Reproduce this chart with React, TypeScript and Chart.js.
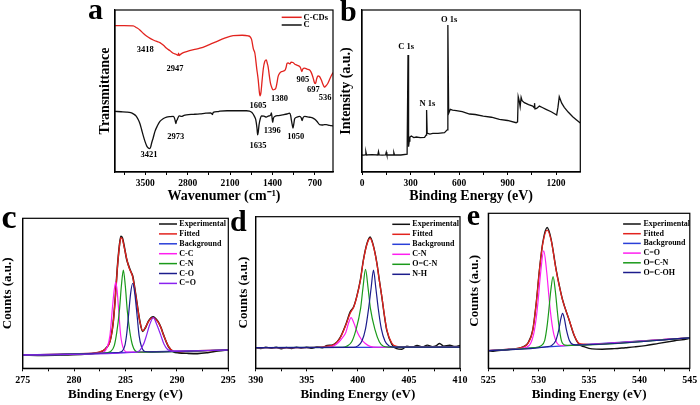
import React, { useEffect, useRef } from "react";
import { Chart, registerables } from "chart.js";

Chart.register(...registerables);

type P = [number, number];

const FONT = "'Liberation Serif', 'Times New Roman', Times, serif";

// ---------------- Panel a : FTIR ----------------
const ftirCCDs: P[] = [
  [4000, 90.3], [3850, 90.3], [3700, 90.2], [3640, 89], [3590, 87.7], [3530, 85.5], [3480, 84.0], [3420, 82.5],
  [3368, 81.5], [3310, 80.6], [3258, 79.9], [3200, 78.2], [3148, 76.4], [3090, 74.8], [3038, 73.3], [2990, 72.7],
  [2960, 72.0], [2950, 73.3], [2940, 71.9], [2928, 72.3], [2880, 73.5], [2818, 74.3], [2700, 75.5], [2598, 76.4],
  [2450, 78.5], [2323, 80.5], [2200, 82.5], [2049, 84.2], [1900, 84.4], [1800, 84.0], [1770, 83.5], [1745, 81.9],
  [1715, 76], [1690, 73.3], [1660, 64], [1635, 56.9], [1615, 49], [1605, 47.0], [1590, 49], [1570, 56.9],
  [1550, 64], [1527, 68.2], [1500, 69.2], [1485, 67], [1472, 65.1], [1450, 59], [1433, 54.8], [1410, 52],
  [1390, 50.7], [1370, 50.9], [1345, 51.7], [1325, 55], [1307, 58.9], [1280, 61], [1252, 62.0], [1197, 62.6],
  [1175, 64.5], [1159, 67.1], [1140, 67.4], [1115, 66.7], [1090, 67.8], [1060, 67.6], [1030, 66.5], [1005, 66.1],
  [951, 65.1], [935, 64.2], [915, 62.0], [900, 63.5], [868, 64.1], [830, 63.5], [786, 63.0], [760, 61.5],
  [731, 58.5], [710, 55.5], [697, 54.6], [687, 54.8], [670, 57.5], [649, 59.3], [620, 58.8], [594, 56.9],
  [570, 54.5], [545, 52.6], [536, 52.4], [520, 53.0], [484, 54.8], [440, 58.5], [400, 61.4],
];
const ftirC: P[] = [
  [4000, 37.4], [3900, 37.2], [3808, 37.0], [3740, 36.6], [3698, 35.9], [3650, 34.5], [3615, 32.2], [3585, 29.5],
  [3560, 26.1], [3530, 22], [3505, 18.9], [3475, 16], [3450, 14.8], [3430, 14.4], [3410, 15.5], [3395, 17.9],
  [3370, 21], [3340, 25.1], [3300, 28.5], [3258, 31.2], [3200, 33], [3148, 33.9], [3090, 34.2], [3038, 34.3],
  [3020, 33.5], [3005, 31.5], [2994, 29.8], [2985, 31.5], [2972, 32.2], [2960, 33.5], [2940, 34.6], [2901, 34.3],
  [2860, 35], [2818, 35.3], [2700, 35.6], [2598, 35.9], [2500, 36.3], [2420, 36.5], [2390, 35.5], [2378, 36.8],
  [2300, 37.3], [2268, 37.6], [2150, 37.8], [2049, 37.8], [1950, 37.8], [1829, 37.8], [1780, 37.6], [1750, 37.0],
  [1730, 36.3], [1700, 34.5], [1675, 32.2], [1655, 27], [1645, 23.0], [1635, 24.5], [1621, 29.2], [1600, 33],
  [1582, 34.7], [1540, 34.5], [1500, 33.9], [1470, 34.5], [1445, 34.7], [1425, 35.5], [1417, 36.5], [1405, 33],
  [1396, 30.6], [1385, 33], [1362, 34.3], [1300, 34.8], [1225, 35.3], [1160, 35.8], [1115, 36.3], [1100, 35],
  [1088, 32.2], [1072, 29], [1060, 27.1], [1048, 29.5], [1033, 32.8], [1000, 33.8], [951, 34.3], [925, 33.5],
  [910, 31.8], [895, 33.5], [868, 34.3], [820, 34], [780, 33.8], [731, 33.3], [700, 32.5], [660, 31],
  [621, 29.2], [580, 29], [540, 29.2], [511, 29.2], [460, 28.8], [430, 28.6], [400, 28.5],
];
const ftirTicks = [3850, 3500, 3150, 2800, 2450, 2100, 1750, 1400, 1050, 700];
const ftirTickLabels = [3500, 2800, 2100, 1400, 700];
const ftirNotes = [
  { text: "3418", x: 3500, y: 75.3 }, { text: "2947", x: 3009, y: 64 }, { text: "1605", x: 1639, y: 40.9 },
  { text: "1380", x: 1284, y: 45 }, { text: "905", x: 896, y: 57.2 }, { text: "697", x: 726, y: 51 },
  { text: "536", x: 528, y: 45.9 }, { text: "3421", x: 3439, y: 10.5 }, { text: "2973", x: 2998, y: 21.8 },
  { text: "1635", x: 1639, y: 16.2 }, { text: "1396", x: 1403, y: 25.3 }, { text: "1050", x: 1017, y: 21.8 },
];

// ---------------- Panel b : XPS survey ----------------
const survey: P[] = [
  [0, 10.5], [10, 10.4], [20, 10.6], [24, 12.4], [28, 10.5], [60, 10.7], [98, 10.5], [102, 12.6], [106, 10.6],
  [125, 10.4], [146, 10.6], [150, 12.2], [154, 10.5], [175, 10.6], [193, 10.5], [197, 12.0], [201, 10.6],
  [240, 10.5], [279, 11], [284.5, 72.2], [288, 15.6], [292, 19], [296, 21.5], [305, 22.2], [320, 21.2],
  [336, 21.6], [360, 21.2], [387, 21.4], [396, 22.8], [399.5, 38.3], [403, 24], [406, 23.9], [420, 23.4],
  [438, 23.8], [470, 23.9], [510, 24.3], [527, 26], [531, 90.7], [536, 36.2], [546, 38.7], [560, 38.2],
  [583, 37.9], [620, 37.2], [665, 35.8], [700, 35.5], [750, 34.5], [800, 33.8], [850, 32.5], [900, 31.8],
  [953, 30.4], [962, 31], [966, 46.5], [972, 44], [978, 40.3], [984, 46.1], [990, 44], [1004, 42.8],
  [1030, 41.6], [1056, 40.7], [1064, 39.8], [1067, 42.5], [1070, 38.9], [1080, 39.2], [1097, 40.7],
  [1115, 39.8], [1138, 38.7], [1170, 37.2], [1204, 35.2], [1212, 40], [1220, 46.5], [1235, 42.5],
  [1251, 39.9], [1275, 37], [1303, 34.1], [1325, 32.3], [1350, 30.2],
];
const surveyTicks = [0, 150, 300, 450, 600, 750, 900, 1050, 1200];
const surveyTickLabels = [0, 300, 600, 900, 1200];
const surveyNotes = [
  { text: "C 1s", x: 273, y: 77.3 }, { text: "N 1s", x: 405, y: 42.4 }, { text: "O 1s", x: 539, y: 93.8 },
];

// ---------------- Panel c : C 1s ----------------
const cExp: P[] = [
  [275, 8.8], [277, 8.6], [279, 8.9], [281, 9.4], [282, 10.0], [282.8, 11.6], [283.2, 14.2], [283.5, 18.3],
  [283.8, 30.5], [284.0, 46.5], [284.2, 66.5], [284.4, 81.5], [284.55, 88], [284.7, 86.8], [284.9, 80.5],
  [285.1, 73], [285.35, 67.5], [285.55, 64], [285.7, 61.5], [285.9, 53.5], [286.1, 44.3], [286.4, 31.2],
  [286.67, 24.6], [286.95, 27.2], [287.22, 31.3], [287.5, 33.8], [287.71, 34.4], [287.95, 33], [288.2, 30.8],
  [288.45, 27.2], [288.7, 22.3], [289.2, 14.2], [289.65, 11.0], [290.2, 10.3], [291, 10.0], [292, 9.8],
  [293, 10.4], [294, 11.5], [295, 12.3],
];
const cFit: P[] = [
  [275, 8.9], [280, 9.7], [282, 10.2], [282.8, 11.8], [283.2, 14], [283.5, 18], [283.8, 30], [284.0, 46],
  [284.2, 66], [284.4, 81], [284.55, 87.1], [284.7, 86], [284.9, 80], [285.1, 73.5], [285.35, 67], [285.7, 61],
  [285.9, 53], [286.1, 44], [286.4, 31], [286.67, 25], [286.95, 27.5], [287.22, 31], [287.5, 33.3], [287.71, 33.8],
  [287.95, 32.5], [288.2, 30.5], [288.45, 27], [288.7, 22.2], [289.2, 14.4], [289.65, 11.5], [290.2, 11.2],
  [292, 11.7], [295, 12.2],
];
const cBg: P[] = [[275, 8.9], [283, 10.2], [287, 10.9], [290, 11.4], [295, 12.2]];
const cCC: P[] = [
  [275, 8.9], [282.6, 10.2], [283.17, 13.3], [283.49, 22], [283.75, 42], [283.9, 52], [284.05, 57.3],
  [284.18, 52], [284.3, 42], [284.53, 22], [284.79, 13.3], [285.2, 10.8], [295, 12.2],
];
const cCN: P[] = [
  [275, 8.9], [283.2, 10.3], [283.5, 11], [283.9, 15], [284.15, 24], [284.4, 38], [284.6, 55], [284.79, 65.5],
  [284.98, 55], [285.18, 38], [285.43, 24], [285.7, 15], [286.1, 11], [286.6, 10.8], [295, 12.2],
];
const cCO: P[] = [
  [275, 8.9], [284.3, 10.5], [284.65, 11.2], [284.95, 15.5], [285.12, 23], [285.27, 33.5], [285.5, 50],
  [285.7, 56.7], [285.9, 50], [286.15, 33.5], [286.32, 22], [286.55, 14.5], [286.9, 11.2], [287.5, 11], [295, 12.2],
];
const cCdO: P[] = [
  [275, 8.9], [286.0, 10.7], [286.4, 12], [286.75, 16], [287.06, 22.3], [287.35, 29], [287.71, 33.8],
  [288.05, 29], [288.42, 22.3], [288.75, 16], [289.1, 12.5], [289.5, 11.4], [295, 12.2],
];
const cTicks = [275, 277.5, 280, 282.5, 285, 287.5, 290, 292.5, 295];
const cTickLabels = [275, 280, 285, 290, 295];

// ---------------- Panel d : N 1s ----------------
const dExp: P[] = [
  [390, 13.5], [390.5, 13.0], [391, 14.0], [391.5, 13.2], [392, 13.9], [392.5, 12.9], [393, 13.7], [393.5, 13.1],
  [394, 14.0], [394.5, 13.3], [395, 13.9], [395.5, 13.2], [396, 14.1], [396.5, 13.6], [397, 15.0], [397.6, 15.6],
  [398.26, 20.2], [398.8, 28.5], [399.25, 37.2], [399.6, 40.8], [399.9, 47.6], [400.25, 58.5], [400.55, 71.8],
  [400.9, 82.5], [401.2, 86.6], [401.5, 81.4], [401.86, 69.6], [402.1, 58.3], [402.35, 47.0], [402.6, 34.6],
  [402.84, 24.8], [403.33, 15.8], [403.8, 13.0], [404.3, 12.6], [404.8, 14.6], [405.3, 13.8], [405.8, 15.1],
  [406.3, 14.0], [406.8, 15.3], [407.3, 14.2], [407.7, 15.0], [408, 16.4], [408.4, 14.6], [409, 15.2],
  [409.5, 14.4], [410, 15.0],
];
const dFit: P[] = [
  [390, 13.6], [396, 13.8], [397, 14.6], [397.6, 15.4], [398.26, 19.8], [398.8, 28], [399.25, 36.3], [399.6, 40.5],
  [399.9, 47.2], [400.25, 58], [400.55, 71.4], [400.9, 82], [401.2, 85.8], [401.5, 81], [401.86, 69.3],
  [402.1, 58], [402.35, 47.2], [402.6, 35], [402.84, 25.3], [403.33, 16.5], [403.8, 14.5], [404.5, 14.1], [410, 14.2],
];
const dBg: P[] = [[390, 13.6], [410, 14.0]];
const dCN: P[] = [
  [390, 13.6], [397.0, 13.9], [397.6, 14.6], [398.1, 17], [398.5, 20.2], [398.82, 23.6], [399.1, 30], [399.34, 33.4],
  [399.6, 30], [399.96, 23.6], [400.3, 19.5], [400.7, 16.5], [401.2, 14.5], [402, 13.9], [410, 14],
];
const dOCN: P[] = [
  [390, 13.6], [398.5, 13.8], [398.9, 14.5], [399.4, 17.5], [399.8, 25], [400.27, 39.5], [400.5, 53], [400.75, 65.3],
  [401.0, 53], [401.23, 39.5], [401.7, 25], [402.1, 17.5], [402.5, 14.5], [403, 14], [410, 14],
];
const dNH: P[] = [
  [390, 13.6], [399.6, 13.8], [400.0, 14.8], [400.4, 18], [400.75, 26], [401.05, 39.3], [401.3, 53], [401.53, 64.8],
  [401.76, 53], [402.0, 39.3], [402.3, 26], [402.65, 18], [403.05, 14.8], [403.5, 14], [410, 14],
];
const dTicks = [390, 392.5, 395, 397.5, 400, 402.5, 405, 407.5, 410];
const dTickLabels = [390, 395, 400, 405, 410];

// ---------------- Panel e : O 1s ----------------
const eExp: P[] = [
  [525, 11.2], [525.5, 11.0], [526, 11.5], [526.5, 11.7], [527, 12.1], [527.5, 12.4], [528, 12.9], [528.5, 14.0],
  [528.93, 16.3], [529.42, 25], [529.76, 42.3], [530.08, 63.8], [530.41, 81.2], [530.84, 90.8], [531.23, 83.4],
  [531.73, 63.8], [532.05, 53.3], [532.37, 44.2], [533.03, 31], [533.52, 21.2], [534.0, 15.5], [534.5, 14],
  [535.3, 12.5], [536.3, 12.3], [537.5, 12.7], [538.6, 13.3], [539.5, 13.8], [540.6, 14.6], [541.9, 16.1],
  [543.5, 17.8], [544.8, 19.1], [545, 19.5],
];
const eFit: P[] = [
  [525, 11.4], [527, 12.3], [528, 13], [528.93, 16.1], [529.42, 24.7], [529.76, 41.9], [530.08, 63.4],
  [530.41, 80.6], [530.84, 89.2], [531.23, 82.8], [531.73, 63.4], [532.05, 53], [532.37, 44], [533.03, 31.2],
  [533.52, 21.5], [534.0, 16.1], [534.5, 15.6], [535, 15.5], [540, 17.5], [545, 19.6],
];
const eBg: P[] = [[525, 11.4], [545, 19.6]];
const eCdO: P[] = [
  [525, 11.4], [528, 12.6], [528.8, 13.6], [529.2, 16], [529.5, 22], [529.75, 32], [529.95, 44], [530.2, 62],
  [530.5, 75.7], [530.8, 62], [531.05, 44], [531.25, 32], [531.5, 22], [531.8, 16.5], [532.2, 14.6], [533, 14.7], [545, 19.6],
];
const eOCN: P[] = [
  [525, 11.4], [529.5, 13.3], [530.2, 14.4], [530.6, 18], [530.85, 28], [531.0, 37], [531.2, 50], [531.43, 59.1],
  [531.65, 50], [531.85, 37], [532.0, 28], [532.25, 18], [532.6, 15], [533.2, 14.8], [545, 19.6],
];
const eOCOH: P[] = [
  [525, 11.4], [530.8, 13.9], [531.3, 14.8], [531.7, 18], [532.0, 25], [532.2, 32], [532.37, 35.5], [532.55, 32],
  [532.75, 25], [533.05, 18], [533.45, 15.3], [534, 15.1], [545, 19.6],
];
const eTicks = [525, 527.5, 530, 532.5, 535, 537.5, 540, 542.5, 545];
const eTickLabels = [525, 530, 535, 540, 545];

// ---------------- colours ----------------
const BLACK = "#111111";
const RED = "#e2231e";
const BLUE = "#2a3fd8";
const MAGENTA = "#ff1ef0";
const GREEN = "#1a9a1a";
const NAVY = "#1c1c8c";
const PURPLE = "#8a22f0";

interface Series { label?: string; data: P[]; color: string; width: number; smooth: boolean; }
interface Note { text: string; x: number; y: number; }
interface PanelSpec {
  key: string; letter: string; letterSize: number; letterX: number; letterY: number;
  left: number; top: number; w: number; h: number;
  yW: number; xH: number; padTop: number; padRight: number;
  xMin: number; xMax: number; reverse: boolean; ticks: number[]; tickLabels: number[];
  tickFont: number; tickPad: number;
  xTitle: string; xTitleSize: number; xTitlePad: number;
  yTitle: string; yTitleSize: number; yTitlePad: number;
  series: Series[];
  lgX0: number; lgX1: number; lgTX: number; lgY0: number; lgDY: number; lgFont: number;
  notes: Note[]; noteFont: number;
}

const xpsTitle = "Binding Energy (eV)";
const countsTitle = "Counts (a.u.)";

const panels: PanelSpec[] = [
  {
    key: "a", letter: "a", letterSize: 30, letterX: 8, letterY: 18.5,
    left: 80, top: 0, w: 267, h: 205, yW: 35, xH: 33, padTop: 10, padRight: 14,
    xMin: 400, xMax: 4000, reverse: true, ticks: ftirTicks, tickLabels: ftirTickLabels, tickFont: 9.5, tickPad: 3,
    xTitle: "Wavenumer (cm\u207B\u00B9)", xTitleSize: 14, xTitlePad: 0.6,
    yTitle: "Transmittance", yTitleSize: 14, yTitlePad: 16.6,
    series: [
      { label: "C-CDs", data: ftirCCDs, color: RED, width: 1.3, smooth: true },
      { label: "C", data: ftirC, color: BLACK, width: 1.3, smooth: true },
    ],
    lgX0: 51.3, lgX1: 31.3, lgTX: 29.5, lgY0: 7.3, lgDY: 7.7, lgFont: 8.5,
    notes: ftirNotes, noteFont: 8.5,
  },
  {
    key: "b", letter: "b", letterSize: 30, letterX: 5, letterY: 21,
    left: 335, top: 0, w: 255, h: 205, yW: 27, xH: 33, padTop: 10, padRight: 9.7,
    xMin: 0, xMax: 1350, reverse: false, ticks: surveyTicks, tickLabels: surveyTickLabels, tickFont: 9.5, tickPad: 3,
    xTitle: xpsTitle, xTitleSize: 14, xTitlePad: 0.6,
    yTitle: "Intensity (a.u.)", yTitleSize: 14, yTitlePad: 3.3,
    series: [{ data: survey, color: BLACK, width: 1.3, smooth: false }],
    lgX0: 0, lgX1: 0, lgTX: 0, lgY0: 0, lgDY: 0, lgFont: 8,
    notes: surveyNotes, noteFont: 8.5,
  },
  {
    key: "c", letter: "c", letterSize: 34, letterX: 1.5, letterY: 23.3,
    left: 0, top: 205, w: 240, h: 200, yW: 22.7, xH: 36.7, padTop: 13.3, padRight: 11.7,
    xMin: 275, xMax: 295, reverse: false, ticks: cTicks, tickLabels: cTickLabels, tickFont: 10, tickPad: 2.7,
    xTitle: xpsTitle, xTitleSize: 13, xTitlePad: 2.2,
    yTitle: countsTitle, yTitleSize: 13, yTitlePad: 0,
    series: [
      { label: "Experimental", data: cExp, color: BLACK, width: 1.6, smooth: true },
      { label: "Fitted", data: cFit, color: RED, width: 1.3, smooth: true },
      { label: "Background", data: cBg, color: BLUE, width: 1.2, smooth: true },
      { label: "C-C", data: cCC, color: MAGENTA, width: 1.2, smooth: true },
      { label: "C-N", data: cCN, color: GREEN, width: 1.2, smooth: true },
      { label: "C-O", data: cCO, color: NAVY, width: 1.2, smooth: true },
      { label: "C=O", data: cCdO, color: PURPLE, width: 1.2, smooth: true },
    ],
    lgX0: 69.3, lgX1: 51.3, lgTX: 49, lgY0: 5.7, lgDY: 9.9, lgFont: 8,
    notes: [], noteFont: 8,
  },
  {
    key: "d", letter: "d", letterSize: 30, letterX: 2, letterY: 25.7,
    left: 228, top: 205, w: 244, h: 200, yW: 27.7, xH: 36.7, padTop: 11.7, padRight: 12,
    xMin: 390, xMax: 410, reverse: false, ticks: dTicks, tickLabels: dTickLabels, tickFont: 10, tickPad: 2.7,
    xTitle: xpsTitle, xTitleSize: 13, xTitlePad: 2.2,
    yTitle: countsTitle, yTitleSize: 13, yTitlePad: 7.5,
    series: [
      { label: "Experimental", data: dExp, color: BLACK, width: 1.4, smooth: true },
      { label: "Fitted", data: dFit, color: RED, width: 1.3, smooth: true },
      { label: "Background", data: dBg, color: BLUE, width: 1.2, smooth: true },
      { label: "C-N", data: dCN, color: MAGENTA, width: 1.2, smooth: true },
      { label: "O=C-N", data: dOCN, color: GREEN, width: 1.2, smooth: true },
      { label: "N-H", data: dNH, color: NAVY, width: 1.2, smooth: true },
    ],
    lgX0: 67.7, lgX1: 50, lgTX: 47.7, lgY0: 7.6, lgDY: 10, lgFont: 8,
    notes: [], noteFont: 8,
  },
  {
    key: "e", letter: "e", letterSize: 30, letterX: 4.7, letterY: 20,
    left: 462, top: 205, w: 238, h: 200, yW: 26.3, xH: 36.7, padTop: 8.3, padRight: 8.3,
    xMin: 525, xMax: 545, reverse: false, ticks: eTicks, tickLabels: eTickLabels, tickFont: 10, tickPad: 2.7,
    xTitle: xpsTitle, xTitleSize: 13, xTitlePad: 2.2,
    yTitle: countsTitle, yTitleSize: 13, yTitlePad: 5.2,
    series: [
      { label: "Experimental", data: eExp, color: BLACK, width: 1.4, smooth: true },
      { label: "Fitted", data: eFit, color: RED, width: 1.3, smooth: true },
      { label: "Background", data: eBg, color: BLUE, width: 1.2, smooth: true },
      { label: "C=O", data: eCdO, color: MAGENTA, width: 1.2, smooth: true },
      { label: "O=C-N", data: eOCN, color: GREEN, width: 1.2, smooth: true },
      { label: "O=C-OH", data: eOCOH, color: NAVY, width: 1.2, smooth: true },
    ],
    lgX0: 66.7, lgX1: 49, lgTX: 46.4, lgY0: 10.7, lgDY: 9.7, lgFont: 8,
    notes: [], noteFont: 8,
  },
];

function buildChart(canvas: HTMLCanvasElement, s: PanelSpec): Chart {
  const font = (size: number) => ({ family: FONT, size, weight: "bold" as const });
  const deco = {
    id: "deco_" + s.key,
    afterDraw(chart: any) {
      const { ctx, chartArea: a } = chart;
      const xs = chart.scales.x;
      const ys = chart.scales.y;
      ctx.save();
      ctx.strokeStyle = "#000";
      ctx.lineWidth = 1.2;
      ctx.strokeRect(a.left, a.top, a.right - a.left, a.bottom - a.top);
      ctx.fillStyle = "#000";
      ctx.font = `bold ${s.letterSize}px ${FONT}`;
      ctx.textAlign = "left";
      ctx.textBaseline = "alphabetic";
      ctx.fillText(s.letter, s.letterX, s.letterY);
      ctx.font = `bold ${s.lgFont}px ${FONT}`;
      ctx.textBaseline = "middle";
      s.series.filter((se) => se.label).forEach((se, i) => {
        const y = a.top + s.lgY0 + i * s.lgDY;
        ctx.strokeStyle = se.color;
        ctx.lineWidth = 1.5;
        ctx.beginPath();
        ctx.moveTo(a.right - s.lgX0, y);
        ctx.lineTo(a.right - s.lgX1, y);
        ctx.stroke();
        ctx.fillStyle = "#000";
        ctx.fillText(se.label as string, a.right - s.lgTX, y);
      });
      ctx.font = `bold ${s.noteFont}px ${FONT}`;
      ctx.textAlign = "center";
      ctx.fillStyle = "#000";
      s.notes.forEach((n) => ctx.fillText(n.text, xs.getPixelForValue(n.x), ys.getPixelForValue(n.y)));
      ctx.restore();
    },
  };
  return new Chart(canvas, {
    type: "line",
    data: {
      datasets: s.series.map((se, i) => ({
        label: se.label || "",
        data: se.data.map(([x, y]) => ({ x, y })),
        borderColor: se.color,
        backgroundColor: se.color,
        borderWidth: se.width,
        pointRadius: 0,
        fill: false,
        order: -i,
        tension: 0,
        cubicInterpolationMode: se.smooth ? "monotone" : "default",
      })),
    },
    options: {
      animation: false,
      responsive: false,
      events: [],
      layout: { padding: { left: 0, top: s.padTop, right: s.padRight, bottom: 0 } },
      plugins: { legend: { display: false }, tooltip: { enabled: false } },
      scales: {
        x: {
          type: "linear",
          min: s.xMin,
          max: s.xMax,
          reverse: s.reverse,
          afterBuildTicks: (axis: any) => {
            axis.ticks = s.ticks.map((v) => ({ value: v }));
          },
          afterFit: (axis: any) => {
            axis.height = s.xH;
          },
          grid: { display: true, drawOnChartArea: false, drawTicks: true, tickLength: 3, color: "#000", lineWidth: 1 },
          border: { display: true, color: "#000", width: 1.2 },
          ticks: {
            autoSkip: false,
            maxRotation: 0,
            padding: s.tickPad,
            color: "#000",
            font: font(s.tickFont),
            callback: (v: any) => (s.tickLabels.includes(Number(v)) ? String(v) : ""),
          },
          title: { display: true, text: s.xTitle, color: "#000", font: font(s.xTitleSize), padding: { top: 0, bottom: s.xTitlePad } },
        },
        y: {
          type: "linear",
          min: 0,
          max: 100,
          afterFit: (axis: any) => {
            axis.width = s.yW;
          },
          grid: { display: false },
          border: { display: true, color: "#000", width: 1.2 },
          ticks: { display: false },
          title: { display: true, text: s.yTitle, color: "#000", font: font(s.yTitleSize), padding: { top: s.yTitlePad, bottom: 0 } },
        },
      },
    } as any,
    plugins: [deco],
  });
}

function Panel({ spec }: { spec: PanelSpec }) {
  const ref = useRef<HTMLCanvasElement | null>(null);
  useEffect(() => {
    if (!ref.current) return;
    const chart = buildChart(ref.current, spec);
    return () => chart.destroy();
  }, [spec]);
  return (
    <canvas
      ref={ref}
      width={spec.w}
      height={spec.h}
      style={{ position: "absolute", left: spec.left, top: spec.top, width: spec.w, height: spec.h }}
    />
  );
}

export default function App() {
  return (
    <div style={{ position: "fixed", left: 0, top: 0, width: 700, height: 405, background: "#fff", overflow: "hidden" }}>
      {panels.map((p) => (
        <Panel key={p.key} spec={p} />
      ))}
    </div>
  );
}
